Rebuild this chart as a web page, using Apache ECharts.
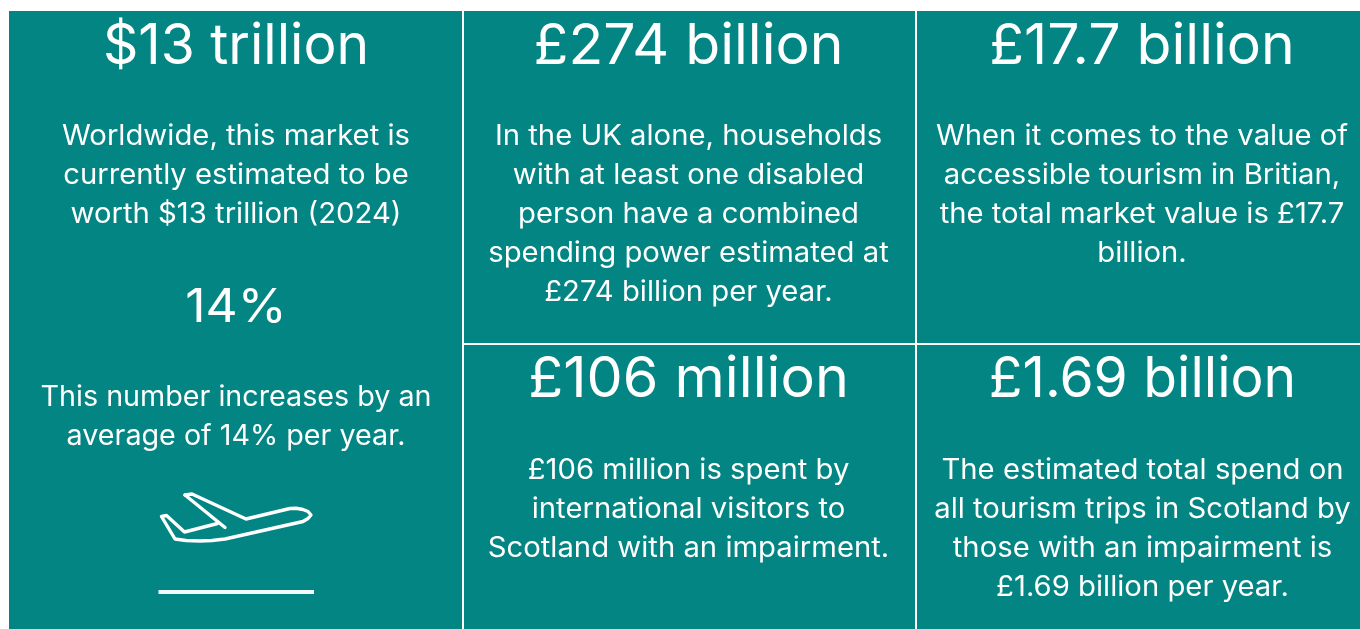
<!DOCTYPE html>
<html>
<head>
<meta charset="utf-8">
<style>
  html, body { margin: 0; padding: 0; background: #fff; }
  #chart { width: 1360px; height: 629px; }
</style>
<script src="https://cdn.jsdelivr.net/npm/echarts@6/dist/echarts.min.js"></script>
</head>
<body>
<div id="chart"></div>
<script>
// figures and copy of each tile
const headlines = ["$13 trillion", "£274 billion", "£17.7 billion", "£106 million", "£1.69 billion"];
const bodyTexts = [
  ["Worldwide, this market is", "currently estimated to be", "worth $13 trillion (2024)"],
  ["In the UK alone, households", "with at least one disabled", "person have a combined", "spending power estimated at", "£274 billion per year."],
  ["When it comes to the value of", "accessible tourism in Britian,", "the total market value is £17.7", "billion."],
  ["£106 million is spent by", "international visitors to", "Scotland with an impairment."],
  ["The estimated total spend on", "all tourism trips in Scotland by", "those with an impairment is", "£1.69 billion per year."]
];
const growthFigure = "14%";
const growthText = ["This number increases by an", "average of 14% per year."];

const TEAL = "#028583";
const WHITE = "#ffffff";
const HEAD_FONT = "400 56px Inter";
const BODY_FONT = "400 28px Inter";
const BODY_STRETCH = 1.045;
const GROWTH_STRETCH = 1.025;
const LINE_GAP = 39;

// where each tile sits: centre x, headline y, first body line y, headline stretch
const tileLayout = [
  [236, 47, 136.5, 0.985],
  [688.5, 47, 136.5, 1.02],
  [1142, 47, 136.5, 1.02],
  [688.5, 380, 470.5, 1.025],
  [1142.5, 380, 470.5, 0.985]
];

const textEl = (text, x, y, font, scaleX) => ({
  type: "text",
  x: x,
  y: y,
  scaleX: scaleX || 1,
  style: { text: text, x: 0, y: 0, font: font, fill: WHITE, align: "center", verticalAlign: "middle" }
});

const elements = [
  { type: "rect", shape: { x: 9, y: 11, width: 1351, height: 618 }, style: { fill: TEAL } },
  { type: "rect", shape: { x: 462, y: 11, width: 2, height: 618 }, style: { fill: WHITE } },
  { type: "rect", shape: { x: 915, y: 11, width: 2, height: 618 }, style: { fill: WHITE } },
  { type: "rect", shape: { x: 463, y: 343, width: 897, height: 2 }, style: { fill: WHITE } }
];

tileLayout.forEach((t, i) => {
  elements.push(textEl(headlines[i], t[0], t[1], HEAD_FONT, t[3]));
  bodyTexts[i].forEach((line, j) => {
    elements.push(textEl(line, t[0], t[2] + j * LINE_GAP, BODY_FONT, BODY_STRETCH));
  });
});

elements.push(textEl(growthFigure, 236, 308, "400 47px Inter", 1.06));
growthText.forEach((line, j) => {
  elements.push(textEl(line, 236, 397.5 + j * LINE_GAP, BODY_FONT, GROWTH_STRETCH));
});

// plane icon and runway
const planeStyle = { fill: null, stroke: WHITE, lineWidth: 3.4, lineJoin: "round", lineCap: "round" };
elements.push({
  type: "polyline",
  shape: {
    points: [
      [185, 495], [192, 494], [246, 519], [290, 508.5], [296, 508.3], [303, 509.5], [308, 511.5], [311, 515],
      [308, 518.5], [303, 521.5], [225, 539], [212, 540.5], [200, 541], [186, 540.5], [175, 539],
      [161.5, 516.5], [166.5, 515.5], [184.5, 532], [217.5, 523.5]
    ]
  },
  style: planeStyle
});
elements.push({
  type: "polyline",
  shape: { points: [[185, 495], [225, 527.5]] },
  style: planeStyle
});
elements.push({ type: "rect", shape: { x: 158.5, y: 590, width: 155.5, height: 4 }, style: { fill: "#f2f9f9" } });

const myChart = echarts.init(document.getElementById("chart"));
myChart.setOption({
  backgroundColor: WHITE,
  animation: false,
  graphic: { elements: elements }
});
</script>
</body>
</html>
